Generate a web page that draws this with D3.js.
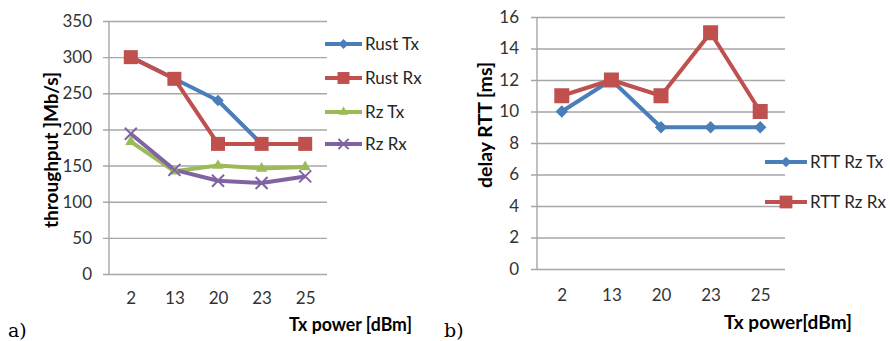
<!DOCTYPE html>
<html>
<head>
<meta charset="utf-8">
<script src="https://cdn.jsdelivr.net/npm/d3@7"></script>
<style>
  body { margin: 0; background: #fff; }
  svg { display: block; font-family: Lato, "Liberation Sans", sans-serif; }
</style>
</head>
<body>
<div id="svg_container"></div>
<script>
// values
const txPower = ["2", "13", "20", "23", "25"];

const rustTx = [300, 270, 240, 180, 180];
const rustRx = [300, 270, 180, 180, 180];
const rzTx = [183, 142, 150, 146, 148];
const rzRx = [194, 144, 129, 126, 135];

const rttRzTx = [10, 12, 9, 9, 9];
const rttRzRx = [11, 12, 11, 15, 10];

const ticksA = [0, 50, 100, 150, 200, 250, 300, 350];
const ticksB = [0, 2, 4, 6, 8, 10, 12, 14, 16];

const blue = "#4a7ebb", red = "#c0504d", green = "#9bbb59", purple = "#8064a2";
const grid = "#a6a6a6";

const svg = d3.select("#svg_container")
    .append("svg")
    .attr("width", 889)
    .attr("height", 341);

svg.append("rect").attr("width", 889).attr("height", 341).attr("fill", "#fff");

function drawMarker(g, type, color, size) {
    if (type === "diamond") {
        g.append("path")
            .attr("d", d3.symbol(d3.symbolDiamond2, size * size * 0.5)())
            .attr("fill", color);
    } else if (type === "square") {
        g.append("rect")
            .attr("x", -size / 2).attr("y", -size / 2)
            .attr("width", size).attr("height", size)
            .attr("fill", color);
    } else if (type === "triangle") {
        g.append("path")
            .attr("d", d3.symbol(d3.symbolTriangle2, size * size * 0.45)())
            .attr("fill", color);
    } else if (type === "cross") {
        const h = size / 2;
        g.append("path")
            .attr("d", `M${-h},${-h}L${h},${h}M${-h},${h}L${h},${-h}`)
            .attr("stroke", color)
            .attr("stroke-width", 2);
    }
}

function drawChart(cfg) {
    const g = svg.append("g")
        .attr("transform", `translate(${cfg.left}, ${cfg.top})`);

    const x = d3.scalePoint()
        .domain(txPower)
        .range([0, cfg.width])
        .padding(0.5);

    const y = d3.scaleLinear()
        .domain([0, d3.max(cfg.ticks)])
        .range([cfg.height, 0]);

    // gridlines + y tick labels
    const yAxis = g.append("g")
        .attr("transform", "translate(-6, 0)")
        .call(d3.axisLeft(y).tickValues(cfg.ticks).tickSize(-(cfg.width + 6)).tickPadding(cfg.pad));
    yAxis.select(".domain").remove();
    yAxis.selectAll(".tick line").attr("stroke", grid).attr("stroke-width", 1.4);
    yAxis.selectAll(".tick text")
        .attr("font-size", 17)
        .attr("fill", "#333")
        .attr("font-family", "Lato, sans-serif");

    // vertical axis line
    g.append("line")
        .attr("x1", 0).attr("x2", 0)
        .attr("y1", 0).attr("y2", cfg.height)
        .attr("stroke", grid)
        .attr("stroke-width", 1.4);

    // x labels
    const xAxis = g.append("g")
        .attr("transform", `translate(0, ${cfg.height})`)
        .call(d3.axisBottom(x).tickSize(0).tickPadding(cfg.xpad));
    xAxis.select(".domain").remove();
    xAxis.selectAll(".tick text")
        .attr("font-size", 17)
        .attr("fill", "#333")
        .attr("font-family", "Lato, sans-serif");

    cfg.series.forEach(function (s) {
        const line = d3.line()
            .x((d, i) => x(txPower[i]))
            .y(d => y(d));
        g.append("path")
            .datum(s.values)
            .attr("d", line)
            .attr("fill", "none")
            .attr("stroke", s.color)
            .attr("stroke-width", 4)
            .attr("stroke-linejoin", "round");
    });
    cfg.series.forEach(function (s) {
        s.values.forEach(function (v, i) {
            const m = g.append("g")
                .attr("transform", `translate(${x(txPower[i])}, ${y(v)})`);
            drawMarker(m, s.marker, s.color, s.size);
        });
    });

    // y title
    svg.append("text")
        .attr("transform", `translate(${cfg.ytitleX}, ${cfg.ytitleY}) rotate(-90)`)
        .attr("x", -cfg.ytitleLen / 2)
        .attr("textLength", cfg.ytitleLen)
        .attr("lengthAdjust", "spacingAndGlyphs")
        .attr("font-weight", "700")
        .attr("font-size", 18)
        .attr("fill", "#000")
        .text(cfg.ytitle);

    // x title
    svg.append("text")
        .attr("x", cfg.xtitleX)
        .attr("y", cfg.xtitleY)
        .attr("textLength", cfg.xtitleLen)
        .attr("lengthAdjust", "spacingAndGlyphs")
        .attr("font-weight", "700")
        .attr("font-size", 18)
        .attr("fill", "#000")
        .text(cfg.xtitle);

    // panel letter
    svg.append("text")
        .attr("x", cfg.letterX)
        .attr("y", 337)
        .attr("font-size", 19)
        .attr("fill", "#000")
        .attr("font-family", "'DejaVu Serif', serif")
        .text(cfg.letter);

    // legend
    cfg.series.forEach(function (s, i) {
        const ly = cfg.legendY[i];
        const lg = svg.append("g")
            .attr("transform", `translate(${cfg.legendX}, ${ly})`);
        lg.append("line")
            .attr("x1", 0).attr("x2", cfg.legendW)
            .attr("stroke", s.color)
            .attr("stroke-width", 4);
        const m = lg.append("g").attr("transform", `translate(${cfg.legendW / 2}, 0)`);
        drawMarker(m, s.marker, s.color, s.size * 0.85);
        lg.append("text")
            .attr("x", cfg.legendW + 3)
            .attr("dy", "0.35em")
            .attr("font-size", 17)
            .attr("fill", "#262626")
            .text(s.name);
    });
}

drawChart({
    left: 109, top: 21, width: 218, height: 253,
    ticks: ticksA, pad: 11, xpad: 18,
    series: [
        { name: "Rust Tx", values: rustTx, color: blue, marker: "diamond", size: 13 },
        { name: "Rust Rx", values: rustRx, color: red, marker: "square", size: 14 },
        { name: "Rz Tx", values: rzTx, color: green, marker: "triangle", size: 14 },
        { name: "Rz Rx", values: rzRx, color: purple, marker: "cross", size: 12 }
    ],
    ytitle: "throughput  ]Mb/s]", ytitleX: 58, ytitleY: 150, ytitleLen: 156,
    xtitle: "Tx power [dBm]", xtitleX: 289, xtitleY: 331, xtitleLen: 123,
    letter: "a)", letterX: 8,
    legendX: 325, legendW: 37, legendY: [44, 78, 112, 144]
});

drawChart({
    left: 537, top: 17, width: 248, height: 252,
    ticks: ticksB, pad: 12, xpad: 20,
    series: [
        { name: "RTT Rz Tx", values: rttRzTx, color: blue, marker: "diamond", size: 14 },
        { name: "RTT Rz Rx", values: rttRzRx, color: red, marker: "square", size: 15 }
    ],
    ytitle: "delay RTT [ms]", ytitleX: 492, ytitleY: 125, ytitleLen: 126,
    xtitle: "Tx power[dBm]", xtitleX: 724, xtitleY: 329, xtitleLen: 128,
    letter: "b)", letterX: 444,
    legendX: 765, legendW: 42, legendY: [162, 202]
});
</script>
</body>
</html>
